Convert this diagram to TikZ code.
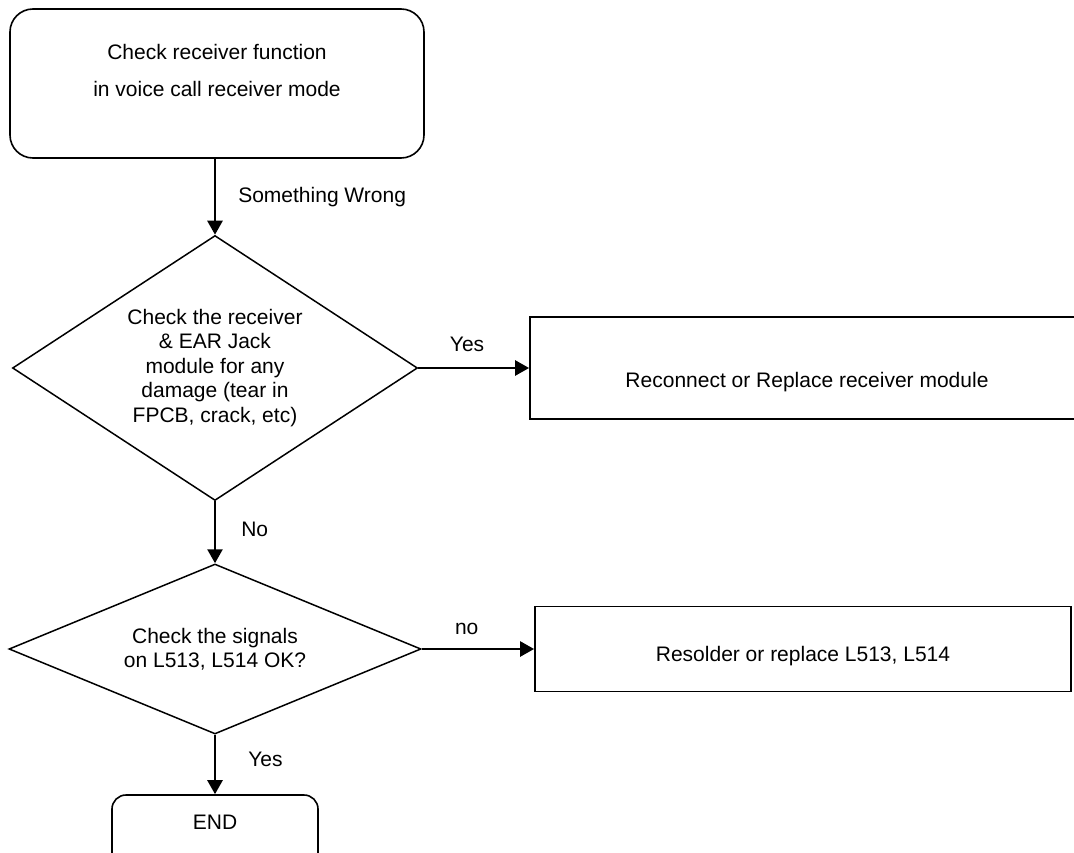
\documentclass[tikz,border=0pt]{standalone}
\usepackage{fontspec}
\setmainfont{Liberation Sans}
\usetikzlibrary{shapes.geometric,arrows.meta}

\tikzset{every node/.style={font=\fontsize{21}{24.5}\selectfont,inner sep=0pt}}
\tikzset{startbox/.style={draw,line width=1.6pt,rounded corners=23pt,align=center,minimum width=414pt,minimum height=149pt,font=\fontsize{21}{36.7}\selectfont}}
\tikzset{decision/.style={draw,diamond,line width=1.5pt,align=center}}
\tikzset{actionbox/.style={draw,rectangle,line width=1.8pt}}
\tikzset{endbox/.style={draw,line width=1.6pt,rounded corners=14pt,minimum width=206pt,minimum height=85pt,text height=15.2pt,text depth=31pt}}
\tikzset{flow/.style={line width=2.6pt,-{Triangle[length=14pt,width=15pt]}}}

\begin{document}
\begin{tikzpicture}[x=1pt,y=-1pt]
\path[use as bounding box,fill=white] (0,0) rectangle (1074,853);
\path
(217,83.5) node[startbox](1){Check receiver function\\in voice call receiver mode\rule[-25.6pt]{0pt}{0pt}}
(215,368) node[decision,aspect=1.53,minimum width=405pt,minimum height=265pt](2){Check the receiver\\\& EAR Jack\\module for any\\damage (tear in\\FPCB, crack, etc)}
(807,368) node[actionbox,minimum width=554pt,minimum height=102pt,text height=42pt,text depth=4pt](3){Reconnect or Replace receiver module}
(215,649) node[decision,aspect=2.42,minimum width=412pt,minimum height=170pt](4){Check the signals\\on L513, L514 OK?}
(803,649) node[actionbox,minimum width=536pt,minimum height=85pt,text height=29pt,text depth=4pt](5){Resolder or replace L513, L514}
(215,837.5) node[endbox](6){END};
\path[draw,flow] (2.north |- 1.south)--(2) node[midway,right=22pt](7){Something Wrong};
\path[draw,flow] (2)--(3) node[pos=0.44,above=14.7pt](8){Yes};
\path[draw,flow] (2)--(4) node[pos=0.45,right=25pt](9){No};
\path[draw,flow] (4)--(5) node[pos=0.4,above=13pt](10){no};
\path[draw,flow] (4)--(6) node[pos=0.41,right=32pt](11){Yes};
\end{tikzpicture}
\end{document}
